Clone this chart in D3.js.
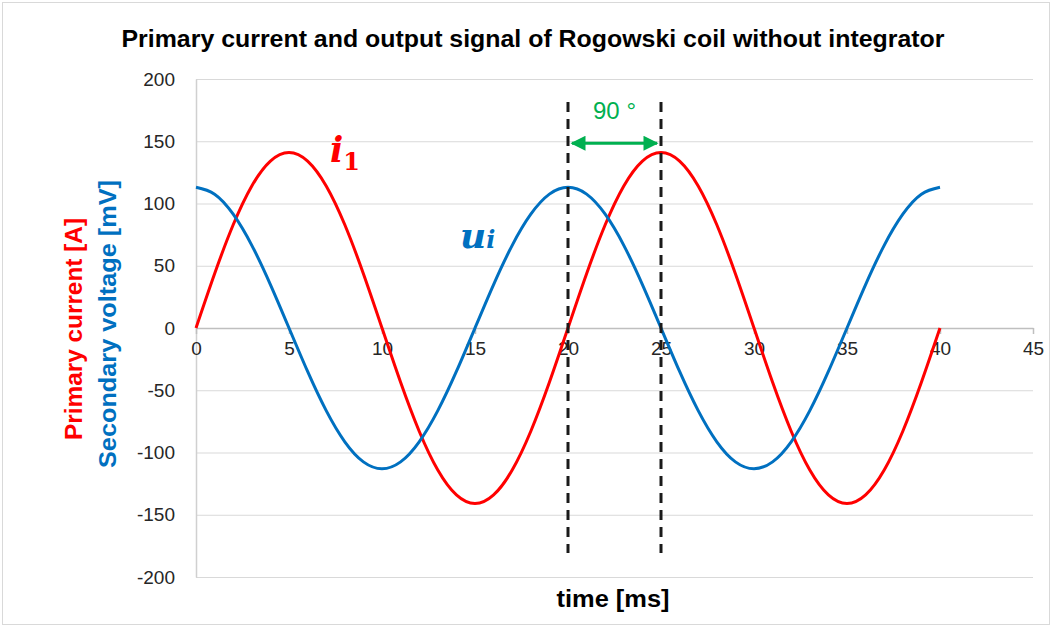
<!DOCTYPE html>
<html>
<head>
<meta charset="utf-8">
<script src="https://cdn.jsdelivr.net/npm/d3@7"></script>
<style>
  body { margin: 0; background: #fff; }
</style>
</head>
<body>
<svg id="chart"></svg>
<script>
// time in ms, 1 ms steps
var timeMs = d3.range(0, 41);
var primaryCurrent = [
  0, 43.6, 82.9, 114.1, 134.1, 141, 134.1, 114.1, 82.9, 43.6,
  0, -43.6, -82.9, -114.1, -134.1, -141, -134.1, -114.1, -82.9, -43.6,
  0, 43.6, 82.9, 114.1, 134.1, 141, 134.1, 114.1, 82.9, 43.6,
  0, -43.6, -82.9, -114.1, -134.1, -141, -134.1, -114.1, -82.9, -43.6,
  0
];
var secondaryVoltage = [
  113, 107.5, 91.4, 66.4, 34.9, 0, -34.9, -66.4, -91.4, -107.5,
  -113, -107.5, -91.4, -66.4, -34.9, 0, 34.9, 66.4, 91.4, 107.5,
  113, 107.5, 91.4, 66.4, 34.9, 0, -34.9, -66.4, -91.4, -107.5,
  -113, -107.5, -91.4, -66.4, -34.9, 0, 34.9, 66.4, 91.4, 107.5,
  113
];
var xTicks = [0, 5, 10, 15, 20, 25, 30, 35, 40, 45];
var yTicks = [-200, -150, -100, -50, 0, 50, 100, 150, 200];
var phaseMarks = [20, 25];
var arrowY = 150;

var width = 1053, height = 628;
var svg = d3.select("#chart").attr("width", width).attr("height", height)
    .style("font-family", "'Liberation Sans', Arial, sans-serif");

svg.append("rect")
    .attr("x", 2.5).attr("y", 2.5)
    .attr("width", width - 6).attr("height", height - 6)
    .attr("fill", "#fff")
    .attr("stroke", "#d9d9d9");

var x = d3.scaleLinear().domain([0, 45]).range([196, 1033]);
var y = d3.scaleLinear().domain([-200, 200]).range([577, 79]);

// gridlines
svg.append("g").selectAll("line")
  .data(yTicks.filter(d => d !== 0))
  .enter().append("line")
    .attr("x1", x(0)).attr("x2", x(45))
    .attr("y1", d => y(d) + 0.5).attr("y2", d => y(d) + 0.5)
    .attr("stroke", "#d9d9d9").attr("stroke-width", 1.2);

// y axis
var yAxis = svg.append("g")
    .attr("transform", "translate(" + x(0) + ",0)")
    .call(d3.axisLeft(y).tickValues(yTicks).tickFormat(d => String(d)).tickSize(0).tickPadding(21));
yAxis.select(".domain").attr("stroke", "#d0d0d0").attr("stroke-width", 1.5);
yAxis.selectAll("text").attr("font-size", 19).attr("fill", "#262626")
    .attr("font-family", null);

// x axis at zero
var xAxis = svg.append("g")
    .attr("transform", "translate(0," + y(0) + ")")
    .call(d3.axisBottom(x).tickValues(xTicks).tickSize(6).tickSizeOuter(0).tickPadding(8));
xAxis.select(".domain").attr("stroke", "#bfbfbf").attr("stroke-width", 1.5);
xAxis.selectAll(".tick line").attr("stroke", "#bfbfbf").attr("stroke-width", 1.5);
xAxis.selectAll("text").attr("font-size", 19).attr("fill", "#262626")
    .attr("font-family", null);
yAxis.attr("font-family", null);
xAxis.attr("font-family", null);

// series
var line = d3.line().curve(d3.curveNatural);
svg.append("path")
    .attr("d", line(timeMs.map((t, i) => [x(t), y(primaryCurrent[i])])))
    .attr("fill", "none").attr("stroke", "#ff0000").attr("stroke-width", 3);
svg.append("path")
    .attr("d", line(timeMs.map((t, i) => [x(t), y(secondaryVoltage[i])])))
    .attr("fill", "none").attr("stroke", "#0070c0").attr("stroke-width", 3);

// dashed phase markers
svg.append("g").selectAll("line")
  .data(phaseMarks)
  .enter().append("line")
    .attr("x1", d => x(d)).attr("x2", d => x(d))
    .attr("y1", 102).attr("y2", 553)
    .attr("stroke", "#1a1a1a").attr("stroke-width", 3)
    .attr("stroke-dasharray", "10,7");

// double arrow
var defs = svg.append("defs");
["arrowEnd", "arrowStart"].forEach(function (id, k) {
  defs.append("marker")
      .attr("id", id)
      .attr("viewBox", "0 0 10 10")
      .attr("refX", k === 0 ? 9 : 1).attr("refY", 5)
      .attr("markerWidth", 6).attr("markerHeight", 5)
      .attr("markerUnits", "strokeWidth")
      .attr("orient", "auto")
    .append("path")
      .attr("d", k === 0 ? "M0,0 L10,5 L0,10 Z" : "M10,0 L0,5 L10,10 Z")
      .attr("fill", "#00b050");
});
svg.append("line")
    .attr("x1", x(phaseMarks[0]) + 4).attr("x2", x(phaseMarks[1]) - 4)
    .attr("y1", y(arrowY) + 2).attr("y2", y(arrowY) + 2)
    .attr("stroke", "#00b050").attr("stroke-width", 3)
    .attr("marker-start", "url(#arrowStart)")
    .attr("marker-end", "url(#arrowEnd)");
svg.append("text")
    .attr("x", (x(phaseMarks[0]) + x(phaseMarks[1])) / 2)
    .attr("y", 119)
    .attr("text-anchor", "middle")
    .attr("font-size", 24)
    .attr("fill", "#00b050")
    .text("90 °");

// series labels
var i1 = svg.append("text")
    .attr("x", 330).attr("y", 162)
    .style("font-family", "'DejaVu Serif', serif")
    .attr("font-weight", "bold")
    .attr("font-size", 35).attr("fill", "#ff0000");
i1.append("tspan").attr("font-style", "italic").text("i");
i1.append("tspan").attr("dy", 8).attr("font-size", 24).text("1");

var ui = svg.append("text")
    .attr("x", 460).attr("y", 248)
    .style("font-family", "'DejaVu Serif', serif")
    .attr("font-style", "italic").attr("font-weight", "bold")
    .attr("font-size", 36).attr("fill", "#0070c0");
ui.append("tspan").text("u");
ui.append("tspan").attr("font-size", 24).text("i");

// title
svg.append("text")
    .attr("x", 533).attr("y", 47)
    .attr("text-anchor", "middle")
    .attr("font-size", 23).attr("font-weight", "bold")
    .attr("fill", "#000")
    .attr("textLength", 823).attr("lengthAdjust", "spacingAndGlyphs")
    .text("Primary current and output signal of Rogowski coil without integrator");

// x label
svg.append("text")
    .attr("x", 613).attr("y", 607)
    .attr("text-anchor", "middle")
    .attr("font-size", 23).attr("font-weight", "bold")
    .attr("fill", "#000")
    .attr("textLength", 113).attr("lengthAdjust", "spacingAndGlyphs")
    .text("time [ms]");

// y labels (two colours)
svg.append("text")
    .attr("transform", "translate(82,329) rotate(-90)")
    .attr("text-anchor", "middle")
    .attr("font-size", 23).attr("font-weight", "bold")
    .attr("fill", "#ff0000")
    .attr("textLength", 222).attr("lengthAdjust", "spacingAndGlyphs")
    .text("Primary current [A]");
svg.append("text")
    .attr("transform", "translate(116,324) rotate(-90)")
    .attr("text-anchor", "middle")
    .attr("font-size", 23).attr("font-weight", "bold")
    .attr("fill", "#0070c0")
    .attr("textLength", 288).attr("lengthAdjust", "spacingAndGlyphs")
    .text("Secondary voltage [mV]");
</script>
</body>
</html>
